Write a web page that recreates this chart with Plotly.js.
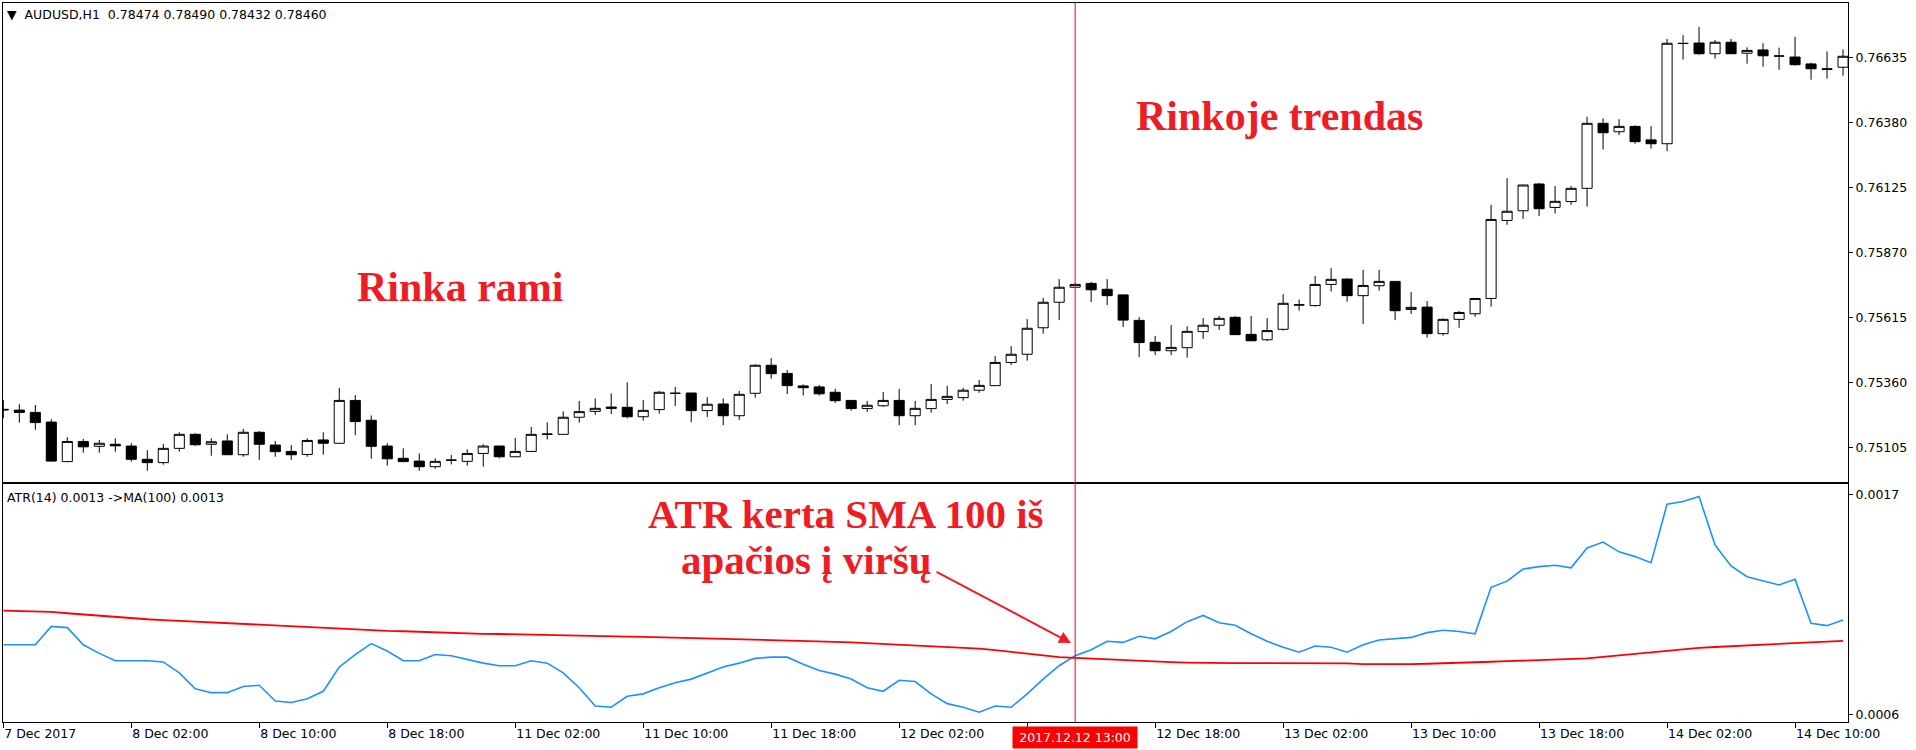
<!DOCTYPE html>
<html>
<head>
<meta charset="utf-8">
<script src="https://cdn.plot.ly/plotly-3.0.1.min.js"></script>
<style>
html,body{margin:0;padding:0;background:#fff;}
#chart{width:1916px;height:750px;}
</style>
</head>
<body>
<div id="chart"></div>
<script>
// ---- AUDUSD H1 bars (index 0 = 7 Dec 2017 18:00) ----
const openP = [0.75254,0.75251,0.75242,0.75204,0.75049,0.75128,0.75109,0.75117,0.75110,0.75058,
0.75045,0.75101,0.75156,0.75117,0.75130,0.75076,0.75164,0.75114,0.75089,0.75077,
0.75134,0.75121,0.75289,0.75211,0.75110,0.75062,0.75051,0.75029,0.75054,0.75050,
0.75081,0.75110,0.75068,0.75089,0.75156,0.75156,0.75223,0.75246,0.75263,0.75262,
0.75225,0.75253,0.75317,0.75318,0.75249,0.75275,0.75229,0.75317,0.75427,0.75395,
0.75346,0.75342,0.75321,0.75289,0.75257,0.75268,0.75289,0.75229,0.75257,0.75293,
0.75300,0.75329,0.75347,0.75438,0.75470,0.75574,0.75674,0.75733,0.75748,0.75725,
0.75703,0.75603,0.75517,0.75484,0.75496,0.75559,0.75584,0.75615,0.75548,0.75527,
0.75568,0.75663,0.75661,0.75744,0.75765,0.75700,0.75739,0.75756,0.75646,0.75655,
0.75551,0.75607,0.75629,0.75689,0.75995,0.76033,0.76138,0.76046,0.76069,0.76121,
0.76376,0.76343,0.76364,0.76311,0.76296,0.76690,0.76691,0.76649,0.76694,0.76651,
0.76664,0.76640,0.76636,0.76609,0.76590,0.76596];
const highP = [0.75291,0.75274,0.75271,0.75215,0.75145,0.75138,0.75134,0.75140,0.75121,0.75094,
0.75118,0.75164,0.75160,0.75140,0.75156,0.75177,0.75169,0.75130,0.75114,0.75140,
0.75164,0.75338,0.75310,0.75230,0.75121,0.75101,0.75081,0.75062,0.75075,0.75097,
0.75117,0.75111,0.75142,0.75185,0.75203,0.75246,0.75287,0.75297,0.75317,0.75360,
0.75291,0.75326,0.75342,0.75319,0.75302,0.75297,0.75326,0.75431,0.75455,0.75408,
0.75352,0.75350,0.75334,0.75290,0.75287,0.75322,0.75334,0.75287,0.75353,0.75346,
0.75338,0.75369,0.75463,0.75502,0.75608,0.75691,0.75765,0.75748,0.75754,0.75765,
0.75704,0.75616,0.75542,0.75585,0.75580,0.75612,0.75620,0.75620,0.75620,0.75612,
0.75706,0.75685,0.75777,0.75808,0.75768,0.75801,0.75801,0.75757,0.75714,0.75679,
0.75611,0.75640,0.75690,0.76056,0.76161,0.76135,0.76142,0.76130,0.76130,0.76402,
0.76396,0.76392,0.76368,0.76365,0.76707,0.76722,0.76754,0.76703,0.76707,0.76674,
0.76690,0.76673,0.76715,0.76614,0.76658,0.76666];
const lowP = [0.75219,0.75202,0.75174,0.75049,0.75047,0.75084,0.75084,0.75088,0.75049,0.75013,
0.75037,0.75088,0.75111,0.75072,0.75075,0.75068,0.75056,0.75068,0.75056,0.75068,
0.75076,0.75120,0.75153,0.75060,0.75033,0.75048,0.75013,0.75021,0.75038,0.75033,
0.75029,0.75062,0.75066,0.75088,0.75136,0.75155,0.75202,0.75232,0.75236,0.75219,
0.75210,0.75237,0.75267,0.75204,0.75224,0.75192,0.75212,0.75300,0.75374,0.75314,
0.75308,0.75308,0.75279,0.75249,0.75244,0.75264,0.75192,0.75192,0.75241,0.75275,
0.75288,0.75319,0.75346,0.75428,0.75445,0.75551,0.75604,0.75731,0.75675,0.75663,
0.75577,0.75459,0.75467,0.75467,0.75457,0.75530,0.75565,0.75546,0.75522,0.75522,
0.75563,0.75641,0.75657,0.75716,0.75676,0.75589,0.75719,0.75604,0.75628,0.75535,
0.75543,0.75574,0.75617,0.75657,0.75978,0.76001,0.76012,0.76022,0.76056,0.76049,
0.76273,0.76330,0.76296,0.76277,0.76267,0.76626,0.76645,0.76630,0.76648,0.76610,
0.76598,0.76586,0.76602,0.76547,0.76551,0.76563];
const closeP = [0.75252,0.75242,0.75202,0.75051,0.75128,0.75107,0.75121,0.75111,0.75058,0.75045,
0.75101,0.75156,0.75115,0.75127,0.75076,0.75164,0.75117,0.75088,0.75076,0.75132,
0.75121,0.75289,0.75206,0.75109,0.75060,0.75049,0.75029,0.75050,0.75055,0.75081,
0.75110,0.75068,0.75089,0.75156,0.75157,0.75223,0.75245,0.75258,0.75258,0.75225,
0.75250,0.75321,0.75317,0.75249,0.75274,0.75229,0.75313,0.75427,0.75394,0.75347,
0.75339,0.75315,0.75288,0.75257,0.75270,0.75289,0.75229,0.75258,0.75293,0.75305,
0.75329,0.75348,0.75438,0.75470,0.75572,0.75674,0.75733,0.75744,0.75723,0.75700,
0.75604,0.75516,0.75484,0.75497,0.75560,0.75584,0.75611,0.75547,0.75523,0.75563,
0.75670,0.75664,0.75744,0.75764,0.75700,0.75740,0.75756,0.75641,0.75654,0.75551,
0.75607,0.75634,0.75689,0.75999,0.76031,0.76134,0.76041,0.76070,0.76121,0.76376,
0.76339,0.76364,0.76304,0.76296,0.76690,0.76689,0.76649,0.76694,0.76649,0.76662,
0.76641,0.76640,0.76606,0.76590,0.76588,0.76639];

// ---- ATR(14) and its MA(100) ----
const atr14 = [0.000949,0.000949,0.000949,0.001041,0.001035,0.000949,0.000906,0.000869,0.000869,0.000869,
0.000863,0.000808,0.000728,0.000709,0.000709,0.000740,0.000746,0.000667,0.000660,0.000679,
0.000716,0.000838,0.000900,0.000955,0.000918,0.000869,0.000869,0.000900,0.000894,0.000875,
0.000857,0.000844,0.000844,0.000869,0.000857,0.000808,0.000734,0.000642,0.000636,0.000691,
0.000703,0.000734,0.000759,0.000777,0.000808,0.000838,0.000857,0.000881,0.000887,0.000887,
0.000851,0.000820,0.000802,0.000777,0.000734,0.000716,0.000771,0.000765,0.000703,0.000654,
0.000636,0.000611,0.000642,0.000636,0.000703,0.000777,0.000844,0.000894,0.000924,0.000967,
0.000961,0.000992,0.000979,0.001016,0.001065,0.001096,0.001059,0.001047,0.001004,0.000967,
0.000937,0.000912,0.000943,0.000937,0.000912,0.000949,0.000973,0.000979,0.000986,0.001010,
0.001022,0.001016,0.001004,0.001237,0.001268,0.001329,0.001341,0.001348,0.001335,0.001434,
0.001464,0.001415,0.001391,0.001360,0.001654,0.001667,0.001692,0.001449,0.001344,0.001290,
0.001269,0.001249,0.001277,0.001057,0.001045,0.001073];
const ma100 = [0.001120,0.001118,0.001116,0.001114,0.001107,0.001101,0.001094,0.001087,0.001081,0.001077,
0.001073,0.001069,0.001065,0.001061,0.001057,0.001053,0.001049,0.001045,0.001041,0.001037,
0.001034,0.001030,0.001026,0.001022,0.001019,0.001017,0.001014,0.001012,0.001009,0.001007,
0.001004,0.001003,0.001001,0.001000,0.000998,0.000997,0.000995,0.000994,0.000992,0.000990,
0.000989,0.000987,0.000986,0.000984,0.000982,0.000981,0.000979,0.000976,0.000974,0.000971,
0.000969,0.000966,0.000964,0.000961,0.000957,0.000953,0.000949,0.000945,0.000942,0.000938,
0.000934,0.000930,0.000922,0.000913,0.000905,0.000896,0.000887,0.000883,0.000879,0.000875,
0.000871,0.000867,0.000864,0.000862,0.000860,0.000858,0.000857,0.000857,0.000857,0.000857,
0.000857,0.000857,0.000857,0.000857,0.000856,0.000852,0.000851,0.000851,0.000852,0.000854,
0.000856,0.000857,0.000860,0.000864,0.000867,0.000870,0.000873,0.000876,0.000879,0.000881,
0.000888,0.000896,0.000903,0.000911,0.000918,0.000926,0.000934,0.000938,0.000942,0.000946,
0.000950,0.000954,0.000958,0.000962,0.000966,0.000969];

// ---- axis ticks ----
const timeTickIdx = [0,8,16,24,32,40,48,56,64,72,80,88,96,104,112];
const timeTickText = ["7 Dec 2017","8 Dec 02:00","8 Dec 10:00","8 Dec 18:00","11 Dec 02:00","11 Dec 10:00",
  "11 Dec 18:00","12 Dec 02:00","","12 Dec 18:00","13 Dec 02:00","13 Dec 10:00","13 Dec 18:00","14 Dec 02:00","14 Dec 10:00"];
const priceTicks = [0.76635,0.76380,0.76125,0.75870,0.75615,0.75360,0.75105];
const atrTicks = [0.0017,0.0006];
const markedBar = 67;
const markedLabel = "2017.12.12 13:00";

const barIdx = openP.map((_, i) => i);
const RED = '#ee1c25';
const txt = {family:'DejaVu Sans', size:12.5, color:'#000'};
const big = {family:'Liberation Serif', size:42, color:RED};
const big2 = {family:'Liberation Serif', size:41, color:RED};

const traces = [
  {
    type:'candlestick', x:barIdx, open:openP, high:highP, low:lowP, close:closeP,
    xaxis:'x2', yaxis:'y2', hoverinfo:'skip', whiskerwidth:0,
    increasing:{line:{color:'#000', width:1}, fillcolor:'#ffffff'},
    decreasing:{line:{color:'#000', width:1}, fillcolor:'#000000'}
  },
  {type:'scatter', mode:'lines', x:barIdx, y:atr14, xaxis:'x', yaxis:'y',
   line:{color:'#1e90ff', width:1.6}, hoverinfo:'skip'},
  {type:'scatter', mode:'lines', x:barIdx, y:ma100, xaxis:'x', yaxis:'y',
   line:{color:'#ff0000', width:1.8}, hoverinfo:'skip'}
];

const W = 1916, H = 750, L = 3, R = 68, T = 3, B = 28;
const pw = W - L - R, ph = H - T - B;
const px = x => (x - L) / pw;
const py = y => (H - B - y) / ph;

const layout = {
  width:W, height:H,
  margin:{l:L, r:R, t:T, b:B, pad:0},
  paper_bgcolor:'#ffffff', plot_bgcolor:'#ffffff',
  showlegend:false,
  boxgap:0.37, boxgroupgap:0,
  font:txt,
  xaxis:{
    domain:[0,1], anchor:'y', range:[-0.02, 115.31],
    tickvals:timeTickIdx, ticktext:timeTickText,
    ticks:'outside', ticklen:5, tickcolor:'#000', tickwidth:1,
    ticklabelposition:'outside right',
    tickfont:txt, showgrid:false, zeroline:false,
    showline:true, mirror:true, linecolor:'#000', linewidth:1,
    rangeslider:{visible:false}, fixedrange:true
  },
  xaxis2:{
    domain:[0,1], anchor:'y2', matches:'x', range:[-0.02, 115.31],
    showticklabels:false, ticks:'', showgrid:false, zeroline:false,
    showline:true, mirror:true, linecolor:'#000', linewidth:1,
    rangeslider:{visible:false}, fixedrange:true
  },
  yaxis:{
    domain:[0, py(484)], anchor:'x', side:'right',
    range:[0.000562, 0.001755],
    tickvals:atrTicks, tickformat:'.4f',
    ticks:'outside', ticklen:4, tickcolor:'#000',
    tickfont:txt, showgrid:false, zeroline:false,
    showline:true, mirror:true, linecolor:'#000', linewidth:1, fixedrange:true
  },
  yaxis2:{
    domain:[py(482), 1], anchor:'x2', side:'right',
    range:[0.74969, 0.76848],
    tickvals:priceTicks, tickformat:'.5f',
    ticks:'outside', ticklen:4, tickcolor:'#000',
    tickfont:txt, showgrid:false, zeroline:false,
    showline:true, mirror:true, linecolor:'#000', linewidth:1, fixedrange:true
  },
  shapes:[
    {type:'line', xref:'x', x0:markedBar, x1:markedBar, yref:'paper', y0:0, y1:1,
     line:{color:'#ff0000', width:1}, layer:'above'}
  ],
  annotations:[
    {xref:'paper', yref:'paper', x:px(5), y:py(14), xanchor:'left', yanchor:'middle', showarrow:false,
     text:'\u25BC\u00a0\u00a0AUDUSD,H1\u00a0\u00a00.78474 0.78490 0.78432 0.78460', font:txt},
    {xref:'paper', yref:'paper', x:px(5), y:py(497), xanchor:'left', yanchor:'middle', showarrow:false,
     text:'ATR(14) 0.0013 -&gt;MA(100) 0.0013', font:txt},
    {xref:'paper', yref:'paper', x:px(355), y:py(287), xanchor:'left', yanchor:'middle', showarrow:false,
     text:'<b>Rinka rami</b>', font:big},
    {xref:'paper', yref:'paper', x:px(1134), y:py(116), xanchor:'left', yanchor:'middle', showarrow:false,
     text:'<b>Rinkoje trendas</b>', font:big},
    {xref:'paper', yref:'paper', x:px(647), y:py(514), xanchor:'left', yanchor:'middle', showarrow:false,
     borderpad:0, text:'<b>ATR kerta SMA 100 iš</b>', font:big2},
    {xref:'paper', yref:'paper', x:px(680), y:py(560), xanchor:'left', yanchor:'middle', showarrow:false,
     borderpad:0, text:'<b>apačios į viršų</b>', font:big2},
    {xref:'paper', yref:'paper', x:px(1071), y:py(643), text:'', showarrow:true,
     ax:-136, ay:-72, arrowcolor:'#ee1c25', arrowwidth:2, arrowhead:2, arrowsize:1.2, standoff:0},
    {xref:'x', yref:'paper', x:markedBar, y:0, yanchor:'top', xanchor:'center', yshift:-4,
     showarrow:false, text:markedLabel, bgcolor:'#ff0000', borderpad:3, width:118,
     font:{family:'DejaVu Sans', size:12.5, color:'#ffffff'}}
  ]
};

Plotly.newPlot('chart', traces, layout, {staticPlot:true, displayModeBar:false});
</script>
</body>
</html>
